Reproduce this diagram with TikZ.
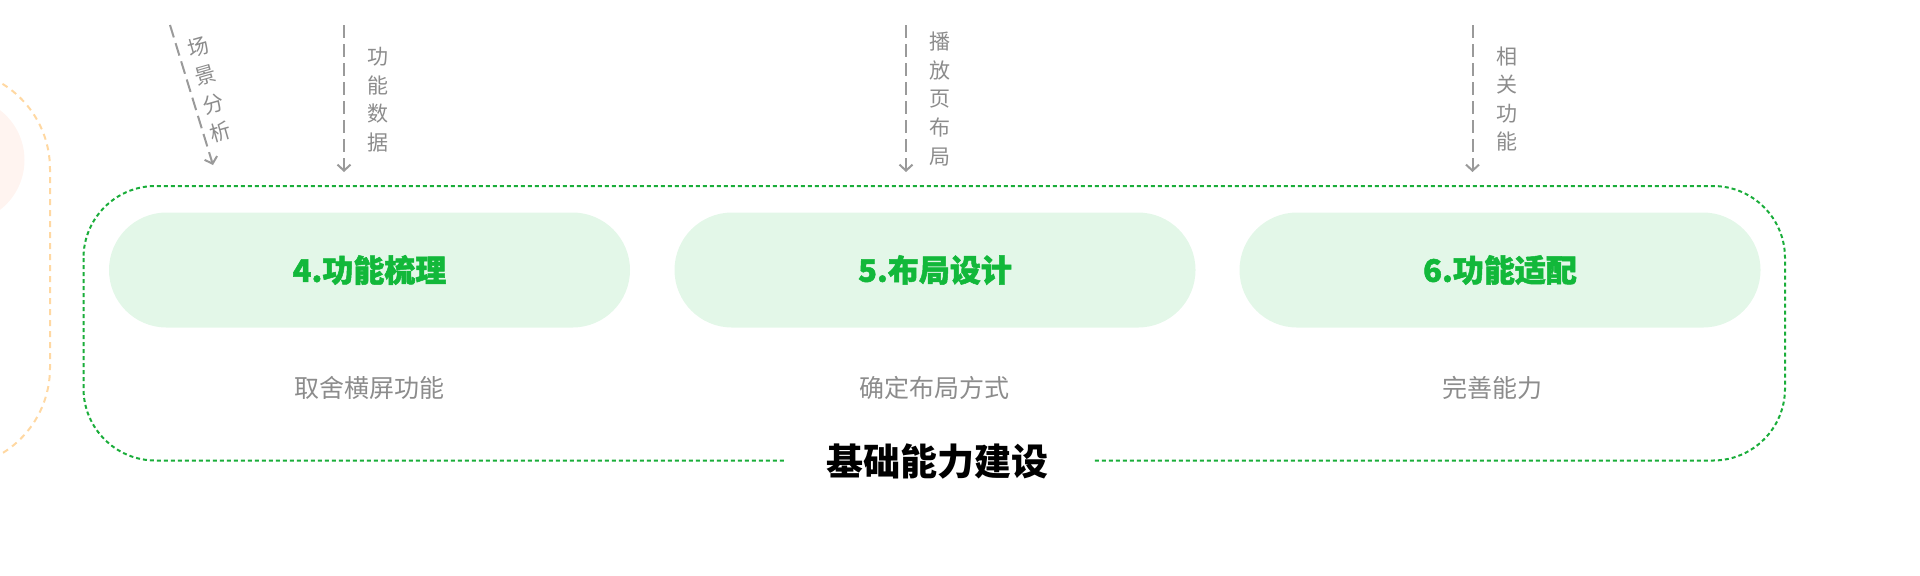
\documentclass[tikz,border=0pt]{standalone}
\usepackage{fontspec}
\setmainfont{Noto Sans CJK SC}
\newfontfamily\heavyfont[BoldFeatures={FakeBold=1.6}]{Noto Sans CJK SC}
\usetikzlibrary{arrows.meta}
\definecolor{wxgreen}{HTML}{12B83A}
\definecolor{framegreen}{HTML}{1AAD3A}
\definecolor{pillgreen}{HTML}{E3F7E8}
\definecolor{notegray}{HTML}{8C8C8C}
\definecolor{feedgray}{HTML}{9A9A9A}
\definecolor{oldorange}{HTML}{FFD8A2}
\definecolor{peach}{HTML}{FFF4F0}
\tikzset{
  pill/.style={fill=pillgreen, minimum width=260.5pt, minimum height=57.5pt,
    rounded corners=28.75pt, text=wxgreen, font=\heavyfont\bfseries\fontsize{15.5}{18}\selectfont},
  note/.style={text=notegray, font=\fontsize{12.5}{15}\selectfont},
  tag/.style={text=notegray, align=center, inner sep=0pt,
    font=\fontsize{10.5}{14.3}\selectfont},
  feed/.style={draw=feedgray, line width=1pt, dash pattern=on 6.5pt off 3pt,
    -{Straight Barb[length=3pt,width=6.5pt,line width=1pt]}},
  frame/.style={draw=framegreen, line width=1pt, dash pattern=on 2pt off 1.5pt},
}
\begin{document}
\begin{tikzpicture}[x=0.5pt, y=-0.5pt]
      \useasboundingbox (0,0) rectangle (1920,575);
      % previous stage, cut by the left edge
      \begin{scope}
        \clip (0,0) rectangle (1920,575);
        \fill[peach] (-38.5,160) circle (31.5pt);
        \draw[oldorange, line width=1pt, dash pattern=on 3pt off 2.5pt,
          rounded corners=50pt] (-200,69) rectangle (50,468);
      \end{scope}
      \draw[frame, rounded corners=36pt] (83.5,186) rectangle (1785,460.5);
      \node[fill=white, minimum width=154pt,
        font=\bfseries\fontsize{18.5}{20}\selectfont] (base) at (937.5,461) {基础能力建设};
      \draw
        (369.5,270) node[pill] (p4){4.功能梳理}
        (935,270) node[pill] (p5){5.布局设计}
        (1500,270) node[pill] (p6){6.功能适配};
      \draw
        (369.5,388) node[note] (n4){取舍横屏功能}
        (934,388) node[note] (n5){确定布局方式}
        (1492,388) node[note] (n6){完善能力};
      % inputs from above
      \coordinate (s1) at (170,25);
      \coordinate (e1) at (213,165);
      \coordinate (s2) at (344,25);
      \coordinate (e2) at (344,172);
      \coordinate (s3) at (906,25);
      \coordinate (e3) at (906,172);
      \coordinate (s4) at (1472.5,25);
      \coordinate (e4) at (1472.5,172);
      \begin{scope}[feed]
        \draw (s1) to (e1);
        \draw (s2) to (e2);
        \draw (s3) to (e3);
        \draw (s4) to (e4);
      \end{scope}
      \foreach \ch [count=\i from 0] in {场,景,分,析}
        \node[tag, rotate=16] (c\i) at ({198.5+7.3*\i},{47.5+28.2*\i}) {\ch};
      \node[tag] (l2) at (378,99.5) {功\\能\\数\\据};
      \node[tag] (l3) at (940,99) {播\\放\\页\\布\\局};
      \node[tag] (l4) at (1506.5,99) {相\\关\\功\\能};
    \end{tikzpicture}
\end{document}
